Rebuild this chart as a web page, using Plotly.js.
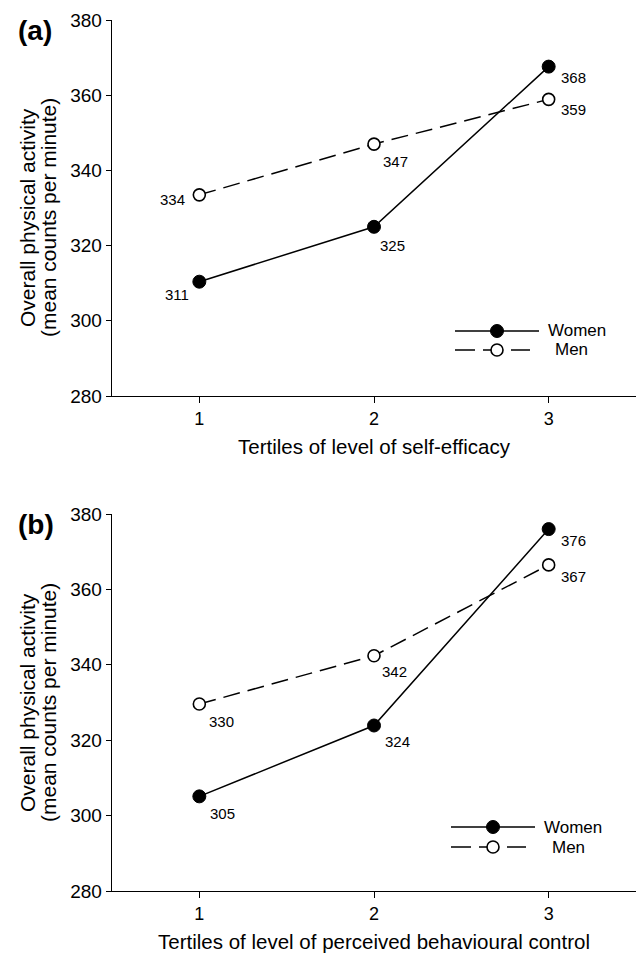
<!DOCTYPE html>
<html>
<head>
<meta charset="utf-8">
<script src="https://cdn.plot.ly/plotly-3.0.1.min.js"></script>
<style>html,body{margin:0;padding:0;background:#fff;}#chart{width:638px;height:953px;}</style>
</head>
<body>
<div id="chart"></div>
<script>
// ---- data ----
const tertiles = [1, 2, 3];
const seriesNames = ["Women", "Men"];
const womenA = [310.4, 325.0, 367.6];
const menA = [333.5, 347.0, 358.9];
const womenALabels = ["311", "325", "368"];
const menALabels = ["334", "347", "359"];
const womenB = [305.1, 323.9, 376.0];
const menB = [329.6, 342.4, 366.5];
const womenBLabels = ["305", "324", "376"];
const menBLabels = ["330", "342", "367"];
const yTicks = [280, 300, 320, 340, 360, 380];
const xTitleA = "Tertiles of level of self-efficacy";
const xTitleB = "Tertiles of level of perceived behavioural control";
const yTitleLines = ["Overall physical activity", "(mean counts per minute)"];
const panelLabels = ["(a)", "(b)"];

// ---- label offsets (px) ----
const offWomenA = [[-22, -13], [18, -19], [25, -11]];
const offMenA = [[-27, -5], [21, -17], [25, -10]];
const offWomenB = [[23, -17], [23, -16], [25, -11]];
const offMenB = [[22, -17], [20, -16], [25, -12]];

const FONT = "Liberation Sans, Arial, Helvetica, sans-serif";

function womenTrace(y, xa, ya) {
  return {x: tertiles, y: y, xaxis: xa, yaxis: ya, type: "scatter", mode: "lines+markers",
    name: seriesNames[0], showlegend: false, cliponaxis: false,
    line: {color: "#000", width: 1.5},
    marker: {symbol: "circle", size: 13, color: "#000", line: {color: "#000", width: 1}}};
}
function menTrace(y, xa, ya) {
  return {x: tertiles, y: y, xaxis: xa, yaxis: ya, type: "scatter", mode: "lines+markers",
    name: seriesNames[1], showlegend: false, cliponaxis: false,
    line: {color: "#000", width: 1.5, dash: "17px,8px"},
    marker: {symbol: "circle", size: 12, color: "#fff", line: {color: "#000", width: 1.6}}};
}

const data = [
  menTrace(menA, "x", "y"), womenTrace(womenA, "x", "y"),
  menTrace(menB, "x2", "y2"), womenTrace(womenB, "x2", "y2")
];

const annotations = [];
function addLabels(vals, labels, offs, xr, yr) {
  vals.forEach((v, i) => {
    annotations.push({x: tertiles[i], y: v, xref: xr, yref: yr, text: labels[i], showarrow: false,
      xshift: offs[i][0], yshift: offs[i][1], font: {family: FONT, size: 15, color: "#000"}});
  });
}
addLabels(womenA, womenALabels, offWomenA, "x", "y");
addLabels(menA, menALabels, offMenA, "x", "y");
addLabels(womenB, womenBLabels, offWomenB, "x2", "y2");
addLabels(menB, menBLabels, offMenB, "x2", "y2");

// layout geometry helpers (pixel -> paper)
const L = 112, R = 2, T = 20, B = 62, W = 638, H = 953;
const pw = W - L - R, ph = H - T - B;
const px = p => (p - L) / pw;
const py = p => (H - B - p) / ph;

// panel labels
annotations.push({xref: "paper", yref: "paper", x: px(34.5), y: py(30), xanchor: "center", yanchor: "middle",
  text: "<b>" + panelLabels[0] + "</b>", showarrow: false, font: {family: FONT, size: 28, color: "#000"}});
annotations.push({xref: "paper", yref: "paper", x: px(35.5), y: py(524), xanchor: "center", yanchor: "middle",
  text: "<b>" + panelLabels[1] + "</b>", showarrow: false, font: {family: FONT, size: 28, color: "#000"}});

// y-axis titles (two tightly spaced lines)
function yTitle(cy) {
  [27, 48].forEach((cx, i) => {
    annotations.push({xref: "paper", yref: "paper", x: px(cx), y: py(cy), xanchor: "center", yanchor: "middle",
      textangle: -90, text: yTitleLines[i], showarrow: false, font: {family: FONT, size: 21, color: "#000"}});
  });
}
yTitle(218);
yTitle(703);

// custom legends
const shapes = [];
function legend(x0, x1, xm, yW, yM, txW, txM) {
  shapes.push({type: "line", xref: "paper", yref: "paper", x0: px(x0), x1: px(x1), y0: py(yW), y1: py(yW),
    line: {color: "#000", width: 1.5}});
  shapes.push({type: "line", xref: "paper", yref: "paper", x0: px(x0), x1: px(x1 - 9), y0: py(yM), y1: py(yM),
    line: {color: "#000", width: 1.5, dash: "20px,8px"}});
  shapes.push({type: "circle", xref: "paper", yref: "paper", xsizemode: "pixel", ysizemode: "pixel",
    xanchor: px(xm), yanchor: py(yW), x0: -6.5, x1: 6.5, y0: -6.5, y1: 6.5,
    fillcolor: "#000", line: {color: "#000", width: 1}});
  shapes.push({type: "circle", xref: "paper", yref: "paper", xsizemode: "pixel", ysizemode: "pixel",
    xanchor: px(xm), yanchor: py(yM), x0: -6, x1: 6, y0: -6, y1: 6,
    fillcolor: "#fff", line: {color: "#000", width: 1.6}});
  annotations.push({xref: "paper", yref: "paper", x: px(txW), y: py(yW), xanchor: "left", yanchor: "middle",
    text: seriesNames[0], showarrow: false, font: {family: FONT, size: 17, color: "#000"}});
  annotations.push({xref: "paper", yref: "paper", x: px(txM), y: py(yM), xanchor: "left", yanchor: "middle",
    text: seriesNames[1], showarrow: false, font: {family: FONT, size: 17, color: "#000"}});
}
legend(455, 539, 497, 331, 350, 546, 553);
legend(451, 535, 493, 827, 847, 542, 550);

function xAxis(anchor, title) {
  return {anchor: anchor, range: [0.5, 3.5], tickvals: tertiles, ticktext: tertiles.map(String),
    showline: true, linecolor: "#000", linewidth: 1.3, ticks: "outside", ticklen: 6, tickwidth: 1,
    tickcolor: "#000", showgrid: false, zeroline: false, fixedrange: true,
    tickfont: {family: FONT, size: 18, color: "#000"},
    title: {text: title, font: {family: FONT, size: 20.5, color: "#000"}, standoff: 11}};
}
function yAxis(anchor, domain) {
  return {anchor: anchor, domain: domain, range: [280, 380], tickvals: yTicks,
    showline: true, linecolor: "#000", linewidth: 1.3, ticks: "outside", ticklen: 5, tickwidth: 1,
    tickcolor: "#000", showgrid: false, zeroline: false, fixedrange: true,
    tickfont: {family: FONT, size: 19, color: "#000"}};
}

const layout = {
  width: W, height: H, margin: {l: L, r: R, t: T, b: B},
  paper_bgcolor: "#fff", plot_bgcolor: "#fff", showlegend: false,
  xaxis: xAxis("y", xTitleA),
  yaxis: yAxis("x", [py(396), 1]),
  xaxis2: xAxis("y2", xTitleB),
  yaxis2: yAxis("x2", [0, py(514)]),
  annotations: annotations, shapes: shapes,
  font: {family: FONT, color: "#000"}
};

Plotly.newPlot("chart", data, layout, {displayModeBar: false, staticPlot: true});
</script>
</body>
</html>
